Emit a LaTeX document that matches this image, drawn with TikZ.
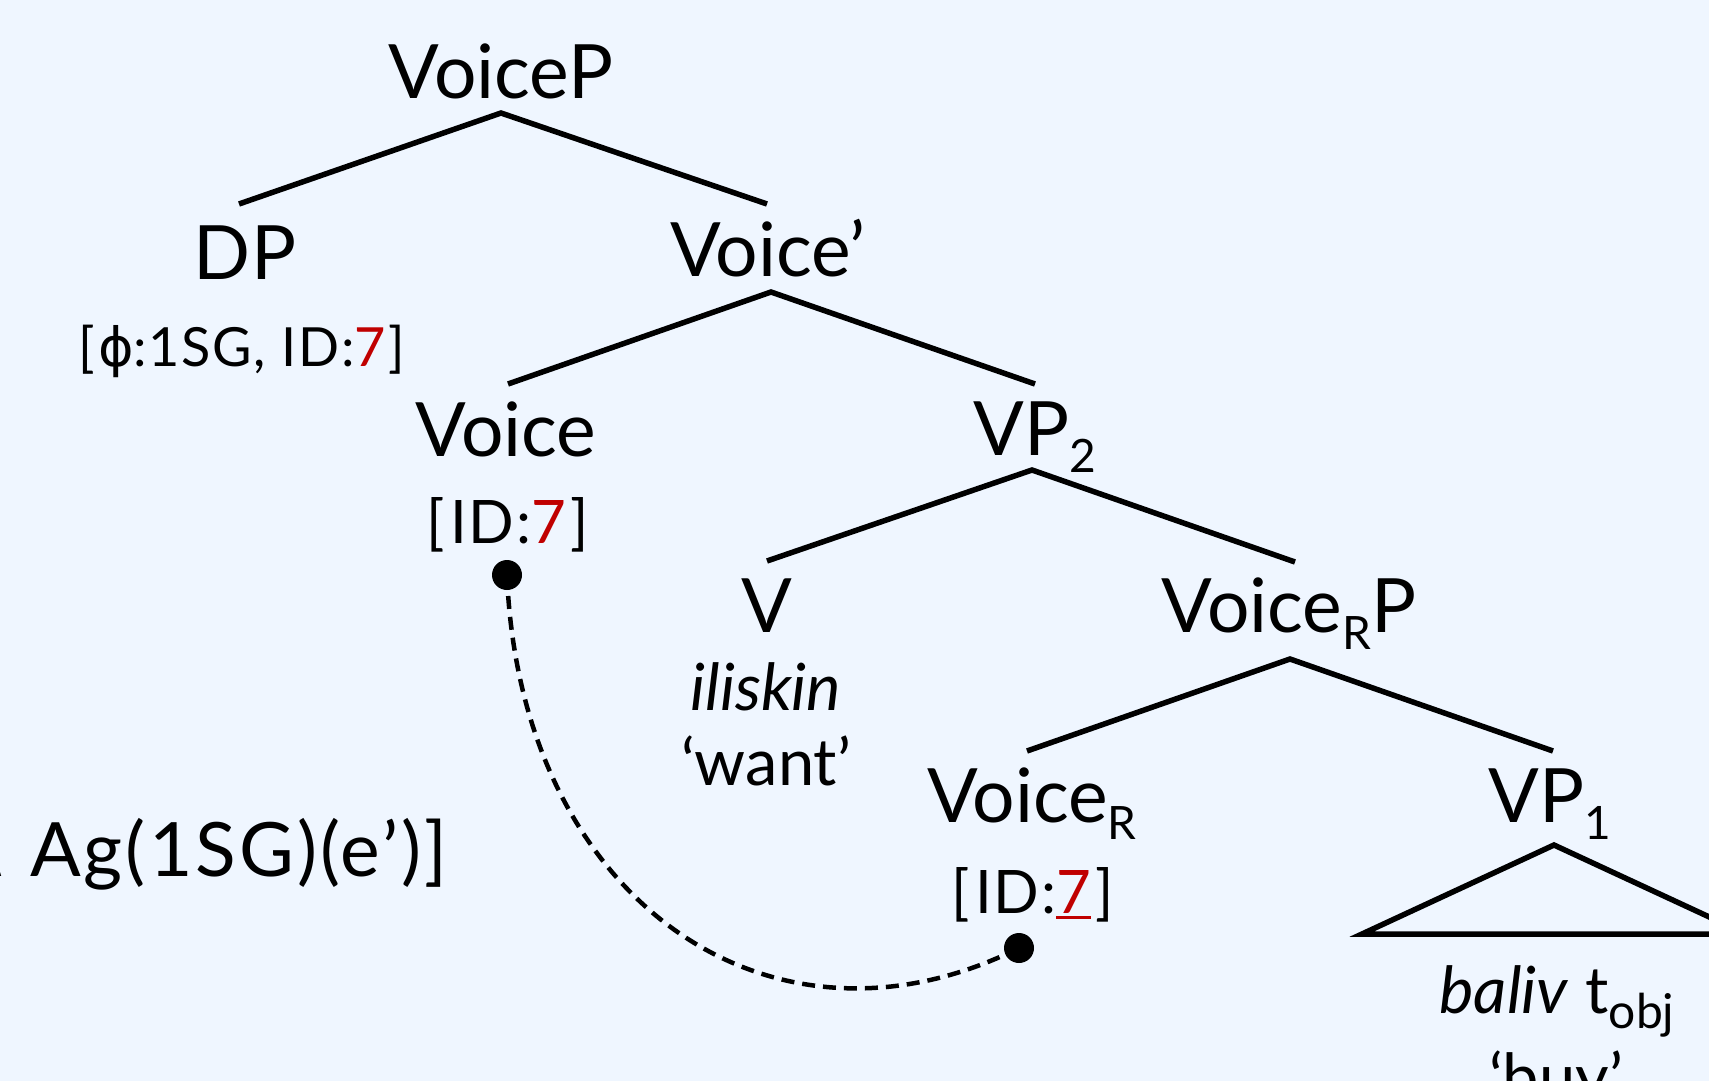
\documentclass[tikz,border=0pt]{standalone}
\usepackage{fontspec}
\setmainfont{Lato}
\newfontfamily\djv{DejaVu Sans}
\definecolor{bgcol}{RGB}{239,246,255}
\definecolor{idred}{RGB}{192,0,0}
\newcommand{\mysub}[1]{\raisebox{-17pt}{\fontsize{46}{46}\selectfont #1}}
\newcommand{\myul}[1]{\setbox0\hbox{#1}\rlap{\rule[-6pt]{\wd0}{3pt}}\box0}
\begin{document}
\begin{tikzpicture}[x=1pt,y=-1pt,
  lab/.style={font=\fontsize{75}{80}\selectfont, inner sep=0pt, anchor=base},
  feat/.style={font=\fontsize{60}{64}\selectfont\addfontfeature{LetterSpace=3}, inner sep=0pt, anchor=base},
  featsm/.style={font=\fontsize{54}{58}\selectfont\addfontfeature{LetterSpace=3}, inner sep=0pt, anchor=base},
  gloss/.style={font=\fontsize{65}{70}\selectfont, inner sep=0pt, anchor=base},
  branch/.style={line width=5.5pt},
  link/.style={line width=4.5pt, dash pattern=on 13pt off 8pt},
  dotn/.style={circle, fill=black, inner sep=0pt, minimum size=30pt}]
\useasboundingbox (0,0) rectangle (1709,1081);
\clip (0,0) rectangle (1709,1081);
\fill[bgcol] (0,0) rectangle (1709,1081);

% labels
\node[lab] (voicep) at (501,99) {VoiceP};
\node[lab] (dp) at (245,279) {DP};
\node[featsm] (dpf) at (242,366) {[\kern3pt{\djv ϕ}:1SG, ID:\textcolor{idred}{7}\kern3pt]};
\node[lab] (voicebar) at (768,276) {Voice’};
\node[lab] (voice) at (506,456) {Voice};
\node[feat] (voicef) at (508,543) {[\kern5pt ID:\textcolor{idred}{7}\kern5pt]};
\node[lab] (vp2) at (1035,455) {VP\mysub{2}};
\node[lab] (v) at (767,632) {V};
\node[gloss] (vit) at (766,710) {\itshape iliskin};
\node[gloss] (vgl) at (766,785) {‘want’};
\node[lab] (voicerp) at (1289,632) {Voice\mysub{R}P};
\node[lab] (voicer) at (1032,822) {Voice\mysub{R}};
\node[feat] (voicerf) at (1033,913) {[\kern5pt ID:\textcolor{idred}{\myul{7}}\kern5pt]};
\node[lab] (vp1) at (1550,822) {VP\mysub{1}};
\node[gloss] (vp1a) at (1557,1013) {\itshape baliv\/\upshape{} t\raisebox{-15pt}{\fontsize{48}{48}\selectfont obj}};
\node[gloss] (vp1b) at (1556,1100) {‘buy’};
\node[lab, anchor=base east] (wedge) at (12,876) {\djv ∧};
\node[lab, anchor=base west, font=\fontsize{75}{80}\selectfont\addfontfeature{LetterSpace=4}] (ag) at (30,876) {Ag(1SG)(e’)]};

% branch points
\coordinate (t1) at (501,113);
\coordinate (l1) at (239,204);
\coordinate (r1) at (767,204);
\coordinate (t2) at (771,292);
\coordinate (l2) at (508,384);
\coordinate (r2) at (1035,384);
\coordinate (t3) at (1032,470);
\coordinate (l3) at (767,561);
\coordinate (r3) at (1295,562);
\coordinate (t4) at (1290,659);
\coordinate (l4) at (1027,751);
\coordinate (r4) at (1553,751);
\coordinate (t5) at (1554,845);
\coordinate (l5) at (1362,934);
\coordinate (r5) at (1746,934);

\draw[branch] (l1) -- (t1) -- (r1);
\draw[branch] (l2) -- (t2) -- (r2);
\draw[branch] (l3) -- (t3) -- (r3);
\draw[branch] (l4) -- (t4) -- (r4);
\draw[branch] (t5) -- (l5) -- (r5) -- cycle;

% binding link
\node[dotn] (d1) at (507,575) {};
\node[dotn] (d2) at (1019,948) {};
\draw[link] (d1.center) .. controls (520,900) and (770,1072) .. (d2.center);
\end{tikzpicture}
\end{document}
